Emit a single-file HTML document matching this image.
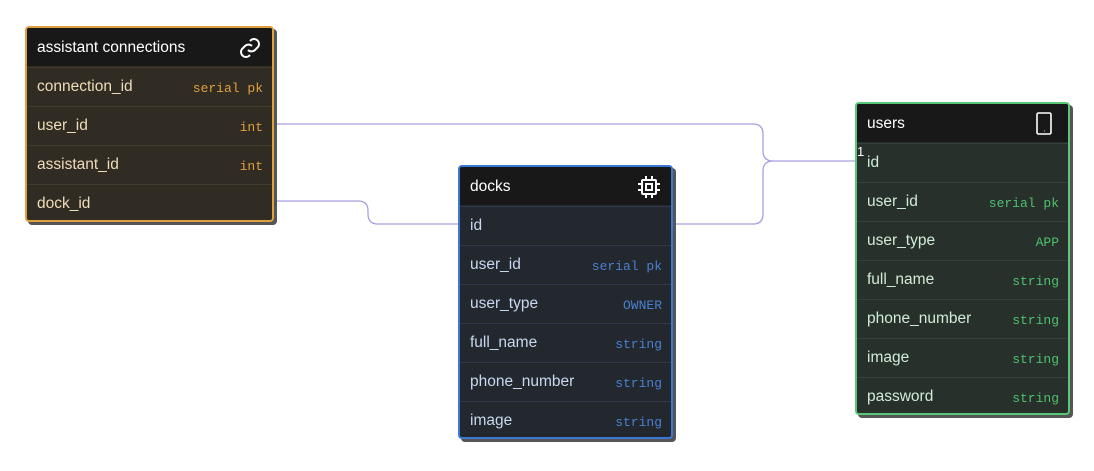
<!DOCTYPE html>
<html><head><meta charset="utf-8"><style>
body{margin:0;width:1094px;height:471px;background:#fff;position:relative;overflow:hidden;font-family:"Liberation Sans",sans-serif}
.t{position:absolute;border:2px solid;border-radius:4px;box-shadow:3px 3px 0 #555;overflow:hidden;box-sizing:border-box}
.h{height:38px;background:#181818;color:#fff;font-size:15.5px;line-height:39px;padding-left:10px;position:relative}
.r{height:38px;box-sizing:border-box;border-top:1px solid;margin-top:1px;position:relative;font-size:15.5px;line-height:37px;padding-left:10px}
.r span{position:absolute;right:9px;top:2px;font-family:"Liberation Mono",monospace;font-size:13px}
.ic{position:absolute;right:10px;top:8px}
</style></head><body>
<svg width="1094" height="471" style="position:absolute;left:0;top:0" fill="none" stroke="#a89ee0" stroke-width="1.3">
<path d="M274 124 H753 Q763 124 763 134 V151 Q763 161 773 161 H858"/>
<path d="M670 224 H753 Q763 224 763 214 V171 Q763 161 773 161"/>
<path d="M274 201 H358 Q368 201 368 211 V214 Q368 224 378 224 H460"/>
</svg>

<div class="t" style="left:25px;top:26px;width:249px;height:196px;border-color:#e0a040;background:#302c24">
<div class="h">assistant connections<svg class="ic" width="24" height="24" viewBox="0 0 24 24" fill="none" stroke="#fff" stroke-width="2"><path d="M10 14a5 5 0 0 0 7 0l3-3a5 5 0 0 0-7-7l-1 1"/><path d="M14 10a5 5 0 0 0-7 0l-3 3a5 5 0 0 0 7 7l1-1"/></svg></div>
<div style="color:#f0dcb8">
<div class="r" style="border-color:#423a2c">connection_id<span style="color:#e0a040">serial pk</span></div>
<div class="r" style="border-color:#423a2c">user_id<span style="color:#e0a040">int</span></div>
<div class="r" style="border-color:#423a2c">assistant_id<span style="color:#e0a040">int</span></div>
<div class="r" style="border-color:#423a2c">dock_id</div>
</div></div>

<div class="t" style="left:458px;top:165px;width:215px;height:274px;border-color:#3a78d8;background:#23272e">
<div class="h">docks<svg class="ic" width="24" height="24" viewBox="0 0 24 24" fill="none" stroke="#fff" stroke-width="2"><rect x="5" y="5" width="14" height="14" rx="1"/><rect x="9" y="9" width="6" height="6"/><path d="M9 1v4M15 1v4M9 19v4M15 19v4M1 9h4M1 15h4M19 9h4M19 15h4"/></svg></div>
<div style="color:#c8d8f0">
<div class="r" style="border-color:#2e3848">id</div>
<div class="r" style="border-color:#2e3848">user_id<span style="color:#4a80d0">serial pk</span></div>
<div class="r" style="border-color:#2e3848">user_type<span style="color:#4a80d0">OWNER</span></div>
<div class="r" style="border-color:#2e3848">full_name<span style="color:#4a80d0">string</span></div>
<div class="r" style="border-color:#2e3848">phone_number<span style="color:#4a80d0">string</span></div>
<div class="r" style="border-color:#2e3848">image<span style="color:#4a80d0">string</span></div>
</div></div>

<div class="t" style="left:855px;top:102px;width:215px;height:313px;border-color:#58c878;background:#27302a">
<div class="h">users<svg class="ic" width="20" height="26" viewBox="0 0 20 26" fill="none" stroke="#fff" stroke-width="1.6" style="top:7px;right:14px"><rect x="3" y="2" width="14" height="21" rx="1.5"/><path d="M10 20h.5"/></svg></div>
<div style="color:#d0ecd8">
<div class="r" style="border-color:#34403a">id</div>
<div class="r" style="border-color:#34403a">user_id<span style="color:#4ec070">serial pk</span></div>
<div class="r" style="border-color:#34403a">user_type<span style="color:#4ec070">APP</span></div>
<div class="r" style="border-color:#34403a">full_name<span style="color:#4ec070">string</span></div>
<div class="r" style="border-color:#34403a">phone_number<span style="color:#4ec070">string</span></div>
<div class="r" style="border-color:#34403a">image<span style="color:#4ec070">string</span></div>
<div class="r" style="border-color:#34403a">password<span style="color:#4ec070">string</span></div>
</div></div>
<div style="position:absolute;left:857px;top:144px;font-size:13px;color:#fff">1</div>
</body></html>
